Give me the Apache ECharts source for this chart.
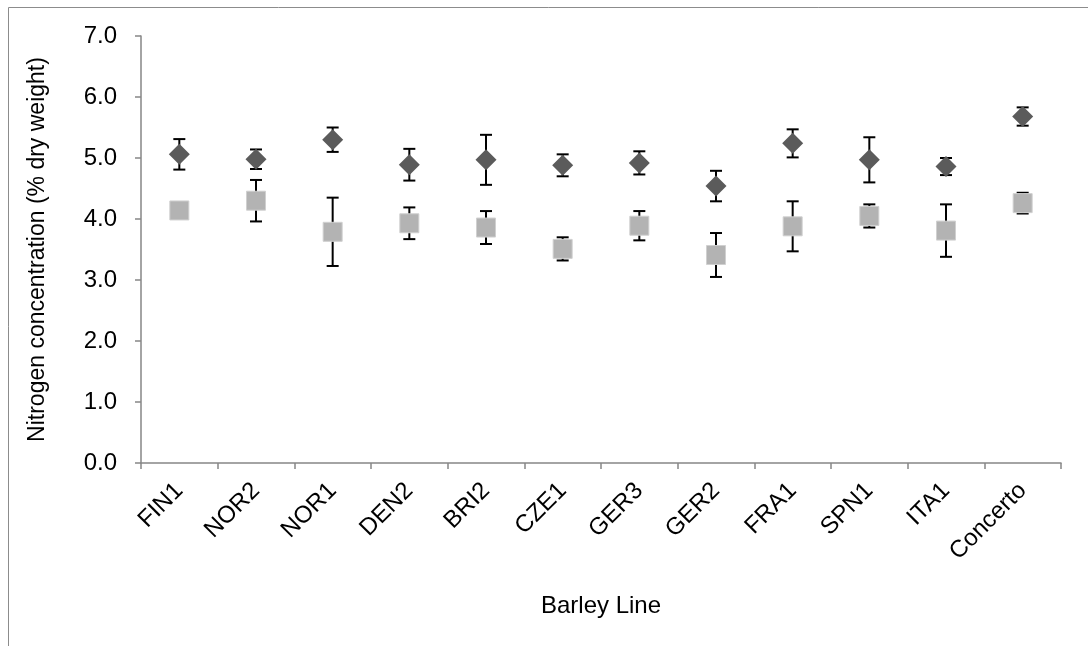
<!DOCTYPE html>
<html>
<head>
<meta charset="utf-8">
<script src="https://cdn.jsdelivr.net/npm/echarts@6/dist/echarts.min.js"></script>
<style>html,body{margin:0;padding:0;background:#fff;}#c{width:1088px;height:646px;}</style>
</head>
<body>
<div id="c"></div>
<script>
const categories = ['FIN1','NOR2','NOR1','DEN2','BRI2','CZE1','GER3','GER2','FRA1','SPN1','ITA1','Concerto'];
const diamondValues = [5.06, 4.98, 5.30, 4.89, 4.97, 4.88, 4.92, 4.54, 5.24, 4.97, 4.86, 5.68];
const diamondErrors = [0.25, 0.16, 0.20, 0.26, 0.41, 0.18, 0.19, 0.25, 0.23, 0.37, 0.14, 0.15];
const squareValues = [4.14, 4.30, 3.79, 3.93, 3.86, 3.51, 3.89, 3.41, 3.88, 4.05, 3.81, 4.26];
const squareErrors = [0.10, 0.34, 0.56, 0.26, 0.27, 0.19, 0.24, 0.36, 0.41, 0.19, 0.43, 0.17];
const yTicks = [0, 1, 2, 3, 4, 5, 6, 7];

const FONT = '"Liberation Sans", Arial, sans-serif';

function errData(vals, errs) {
  return vals.map((v, i) => [i, v - errs[i], v + errs[i]]);
}
function errRender(params, api) {
  const x = api.value(0);
  const lo = api.coord([x, api.value(1)]);
  const hi = api.coord([x, api.value(2)]);
  const hw = 6;
  const st = { stroke: '#000', lineWidth: 2 };
  return {
    type: 'group',
    children: [
      { type: 'line', shape: { x1: hi[0], y1: hi[1], x2: lo[0], y2: lo[1] }, style: st },
      { type: 'line', shape: { x1: hi[0] - hw, y1: hi[1], x2: hi[0] + hw, y2: hi[1] }, style: st },
      { type: 'line', shape: { x1: lo[0] - hw, y1: lo[1], x2: lo[0] + hw, y2: lo[1] }, style: st }
    ]
  };
}

const chart = echarts.init(document.getElementById('c'), null, { renderer: 'canvas' });
chart.setOption({
  animation: false,
  backgroundColor: '#fff',
  graphic: [
    { type: 'line', shape: { x1: 8.5, y1: 7.5, x2: 1088, y2: 7.5 }, style: { stroke: '#8c8c8c', lineWidth: 1 } },
    { type: 'line', shape: { x1: 8.5, y1: 7.5, x2: 8.5, y2: 646 }, style: { stroke: '#8c8c8c', lineWidth: 1 } }
  ],
  grid: { left: 141, right: 27, top: 36, bottom: 183, containLabel: false },
  xAxis: {
    type: 'category',
    data: categories,
    boundaryGap: true,
    name: 'Barley Line',
    nameLocation: 'middle',
    nameGap: 131,
    nameTextStyle: { fontFamily: FONT, fontSize: 24, color: '#000' },
    axisLine: { lineStyle: { color: '#868686', width: 1.5 } },
    axisTick: { show: true, length: 6, alignWithLabel: false, lineStyle: { color: '#868686', width: 1.5 } },
    axisLabel: { rotate: 45, margin: 24, fontFamily: FONT, fontSize: 24, color: '#000', interval: 0 },
    splitLine: { show: false }
  },
  yAxis: {
    type: 'value',
    min: yTicks[0],
    max: yTicks[yTicks.length - 1],
    interval: 1,
    name: 'Nitrogen concentration (% dry weight)',
    nameLocation: 'middle',
    nameGap: 92,
    nameTextStyle: { fontFamily: FONT, fontSize: 23, color: '#000' },
    axisLine: { show: true, lineStyle: { color: '#868686', width: 1.5 } },
    axisTick: { show: true, length: 6, lineStyle: { color: '#868686', width: 1.5 } },
    axisLabel: { margin: 24, fontFamily: FONT, fontSize: 24, color: '#000', formatter: v => v.toFixed(1) },
    splitLine: { show: false }
  },
  series: [
    {
      type: 'custom', name: 'err1', renderItem: errRender,
      data: errData(diamondValues, diamondErrors), z: 1, silent: true,
      encode: { x: 0, y: [1, 2] }
    },
    {
      type: 'custom', name: 'err2', renderItem: errRender,
      data: errData(squareValues, squareErrors), z: 1, silent: true,
      encode: { x: 0, y: [1, 2] }
    },
    {
      type: 'scatter', name: 'A', data: diamondValues, symbol: 'diamond', symbolSize: [21, 21],
      itemStyle: { color: '#5b5b5b', opacity: 1 }, z: 3
    },
    {
      type: 'scatter', name: 'B', data: squareValues, symbol: 'rect', symbolSize: 19,
      itemStyle: { color: '#b3b3b3', opacity: 1, borderColor: '#d0d0d0', borderWidth: 1 }, z: 3
    }
  ]
});
</script>
</body>
</html>
